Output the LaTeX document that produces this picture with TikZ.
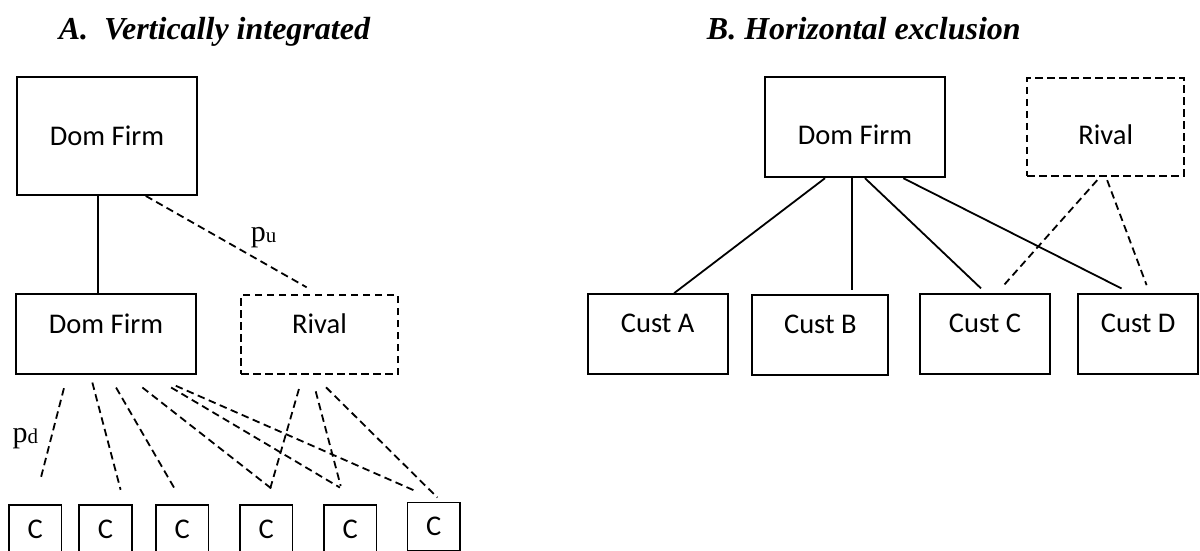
\documentclass[tikz,border=0pt]{standalone}
\usepackage{fontspec}
\newfontfamily\boxfont{Carlito}
\newfontfamily\seriffont{Liberation Serif}

\begin{document}
\begin{tikzpicture}[x=1pt,y=-1pt,line width=1.8pt,
  firm/.style={draw,inner sep=0pt,font=\boxfont\fontsize{28.5}{34}\selectfont},
  rivalbox/.style={firm,dash pattern=on 7.5pt off 4.5pt},
  upper/.style={text height=18.4pt,text depth=21pt},
  lower/.style={text height=34.4pt,text depth=0pt},
  cbox/.style={firm,minimum width=52.5pt,minimum height=48pt},
  dashline/.style={dash pattern=on 7.5pt off 4.5pt},
  heading/.style={anchor=base west,inner sep=0pt,font=\seriffont\bfseries\itshape\fontsize{32}{36}\selectfont},
  price/.style={anchor=base west,inner sep=0pt,font=\seriffont\fontsize{30}{34}\selectfont}]
\useasboundingbox (0,0) rectangle (1200,550);
\clip (0,0) rectangle (1200,550);
% A. vertically integrated
\node[heading] (titleA) at (58,39.3) {A.\hspace{8pt} Vertically integrated};
\node[firm,minimum width=180pt,minimum height=118pt] (topfirm) at (107,136) {Dom Firm};
\node[firm,upper,minimum width=180pt,minimum height=80pt] (domfirm) at (106,334.3) {Dom Firm};
\node[rivalbox,upper,minimum width=157pt,minimum height=79pt] (rivalA) at (319.5,334.6) {Rival};
\foreach \x [count=\i] in {35.3,105.5,182.3,266.2,350.3}
  \node[cbox] (c\i) at (\x,529) {C};
\node[cbox] (c6) at (433.8,526.5) {C};
\node[price] (pu) at (250,241.7) {p\raisebox{-1pt}{\fontsize{21}{21}\selectfont u}};
\node[price] (pd) at (11.7,442.7) {p\raisebox{-1pt}{\fontsize{21}{21}\selectfont d}};
\draw ([xshift=-9pt]topfirm.south) -- ([xshift=-8pt]domfirm.north);
\draw[dashline,shorten >=14pt] ([xshift=38.7pt]topfirm.south) -- ([xshift=-0.7pt]rivalA.north);
\foreach \sx/\tgt/\ex/\sa/\sb in {-38.7pt/c1/-1.2pt/13.4pt/24pt,-15.6pt/c2/18.9pt/7.6pt/14.8pt,
    2.9pt/c3/1.3pt/14.3pt/17.3pt,20.7pt/c4/25.1pt/19.9pt/23pt,
    44.4pt/c5/17.5pt/24.1pt/32.4pt,45.7pt/c6/5.8pt/26.3pt/25.1pt}
  \draw[dashline,shorten <=\sa,shorten >=\sb] ([xshift=\sx]domfirm.south) -- ([xshift=\ex]\tgt.north);
\foreach \sx/\tgt/\ex/\sa/\sb in {-16.5pt/c4/-0.5pt/14.6pt/15.6pt,-8.1pt/c5/-4.8pt/16.9pt/18.9pt,
    -5.9pt/c6/7.7pt/17.5pt/5.9pt}
  \draw[dashline,shorten <=\sa,shorten >=\sb] ([xshift=\sx]rivalA.south) -- ([xshift=\ex]\tgt.north);
% B. horizontal exclusion
\node[heading] (titleB) at (706,39.3) {B. Horizontal exclusion};
\node[firm,lower,minimum width=180pt,minimum height=100pt] (domB) at (855,127.3) {Dom Firm};
\node[rivalbox,lower,minimum width=157pt,minimum height=97.4pt] (rivalB) at (1105.8,127) {Rival};
\node[firm,upper,minimum width=140pt,minimum height=80pt] (custA) at (657.7,334) {Cust A};
\node[firm,upper,minimum width=136pt,minimum height=80pt] (custB) at (820.3,335) {Cust B};
\node[firm,upper,minimum width=130pt,minimum height=80pt] (custC) at (985,334.2) {Cust C};
\node[firm,upper,minimum width=120pt,minimum height=80pt] (custD) at (1138.2,334) {Cust D};
\draw ([xshift=-30pt]domB.south) -- ([xshift=16.5pt]custA.north);
\draw[shorten >=4pt] ([xshift=-3.3pt]domB.south) -- ([xshift=31.4pt]custB.north);
\draw[shorten >=7.2pt] ([xshift=10pt]domB.south) -- ([xshift=1.2pt]custC.north);
\draw[shorten >=10.3pt] ([xshift=48.3pt]domB.south) -- ([xshift=-7.5pt]custD.north);
\draw[dashline,shorten <=4.8pt,shorten >=10.1pt] ([xshift=-5.4pt]rivalB.south) -- ([xshift=11.6pt]custC.north);
\draw[dashline,shorten <=3.8pt,shorten >=8.5pt] (rivalB.south) -- ([xshift=11.4pt]custD.north);
\end{tikzpicture}
\end{document}
